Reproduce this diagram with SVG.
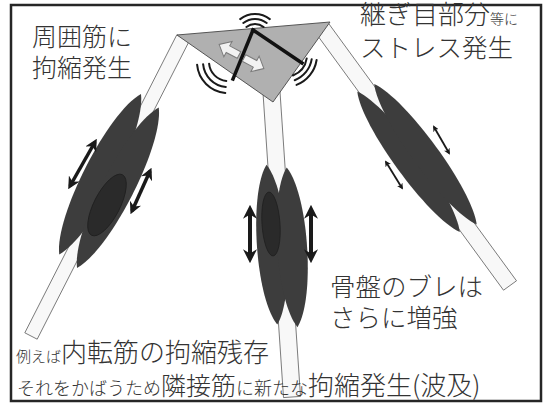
<svg xmlns="http://www.w3.org/2000/svg" width="544" height="404" viewBox="0 0 544 404">
  <defs>
    <style>
      .frame{fill:#fff;stroke:#262626;stroke-width:2.5}
      .bone{fill:#f8f8f8;stroke:#5a5a5a;stroke-width:0.8}
      .muscle{fill:#3d3d3d}
      .core{fill:#2a2a2a;stroke:#1e1e1e;stroke-width:0.8}
      .dbl{fill:none;stroke:#1a1a1a;marker-start:url(#head);marker-end:url(#head)}
      .wave{fill:none;stroke:#1a1a1a;stroke-width:2;stroke-linecap:round}
      .joint{stroke:#111;stroke-width:3.5;stroke-linecap:square}
      .shift{fill:#f2f2f2;stroke:#7a7a7a;stroke-width:0.8}
      .lbl{font-family:"Noto Sans CJK JP","Noto Sans CJK SC",sans-serif;fill:#333;font-weight:300}
    </style>
    <marker id="head" viewBox="0 0 10 10" refX="7" refY="5" markerWidth="3.5" markerHeight="3.5" orient="auto-start-reverse" markerUnits="strokeWidth">
      <path d="M0,0 L10,5 L0,10 L3,5 Z" fill="#1a1a1a"/>
    </marker>
    <!-- unit spindle lobe, scaled per muscle -->
    <path id="lobe" d="M0,-1 C1.333,-0.65 1.333,0.65 0,1 C-1.333,0.65 -1.333,-0.65 0,-1Z"/>
    <!-- block arrow pointing along +x -->
    <path id="block" d="M0,-3 L10,-3 L10,-7 L18,0 L10,7 L10,3 L0,3Z"/>
  </defs>

  <rect class="frame" x="11" y="5" width="530" height="396"/>

  <!-- bones -->
  <g id="bones">
    <polygon id="bone-left" class="bone" points="189.2,41.2 176.8,34.8 24.8,332.8 37.2,339.2"/>
    <polygon id="bone-middle" class="bone" points="262.5,85.6 279.5,84.4 300.5,396.4 283.5,397.6"/>
    <polygon id="bone-right" class="bone" points="328.5,23.3 315.5,32.7 503.5,290.2 516.5,280.8"/>
  </g>

  <!-- muscles -->
  <g id="muscle-left">
    <g transform="translate(109,181) rotate(27)">
      <use href="#lobe" class="muscle" transform="translate(-11,-2) scale(16,90)"/>
      <use href="#lobe" class="muscle" transform="translate(11,2) scale(16,90)"/>
    </g>
    <ellipse class="core" cx="107" cy="205" rx="13" ry="34" transform="rotate(27 107 205)"/>
  </g>
  <g id="muscle-middle">
    <g transform="translate(282,246) rotate(-3.85)">
      <use href="#lobe" class="muscle" transform="translate(-10,-2) scale(15,80)"/>
      <use href="#lobe" class="muscle" transform="translate(10,2) scale(15,80)"/>
    </g>
    <ellipse class="core" cx="271" cy="224" rx="9" ry="32" transform="rotate(-3.85 271 224)"/>
  </g>
  <g id="muscle-right">
    <g transform="translate(417,158) rotate(-36.1)">
      <use href="#lobe" class="muscle" transform="translate(-9,-2) scale(13,87)"/>
      <use href="#lobe" class="muscle" transform="translate(9,2) scale(13,87)"/>
    </g>
  </g>

  <!-- pelvis block -->
  <g id="pelvis">
    <polygon points="177,35 330,22 273,102" fill="#b0b0b0" stroke="#555" stroke-width="1"/>
    <line class="joint" x1="253" y1="30" x2="233" y2="79"/>
    <line class="joint" x1="253" y1="30" x2="302" y2="63"/>
    <use href="#block" class="shift" transform="translate(239,55) rotate(208) scale(1.25)"/>
    <use href="#block" class="shift" transform="translate(244,58) rotate(28) scale(1.25)"/>
  </g>

  <!-- connectors: contraction arrows and vibration marks -->
  <g id="connectors">
    <line class="dbl" stroke-width="3.5" x1="70" y1="186" x2="95" y2="142"/>
    <line class="dbl" stroke-width="3.5" x1="132" y1="211" x2="150" y2="171"/>
    <line class="dbl" stroke-width="4" x1="250" y1="209" x2="250" y2="259"/>
    <line class="dbl" stroke-width="4" x1="311" y1="209" x2="311" y2="259"/>
    <line class="dbl" stroke-width="1.8" x1="434" y1="127" x2="449" y2="153"/>
    <line class="dbl" stroke-width="1.8" x1="386" y1="162" x2="402" y2="188"/>

    <path class="wave" d="M240.2,19.1 A24,24 0 0 1 269.8,19.1"/>
    <path class="wave" d="M243.3,23 A19,19 0 0 1 266.7,23"/>
    <path class="wave" d="M246.4,27 A14,14 0 0 1 263.6,27"/>

    <path class="wave" d="M225.3,92.9 A31,31 0 0 1 197.1,64.7"/>
    <path class="wave" d="M225.8,86.9 A25,25 0 0 1 203.1,64.2"/>
    <path class="wave" d="M226.3,80.9 A19,19 0 0 1 209.1,63.7"/>

    <path class="wave" d="M316.6,60 A32,32 0 0 1 296.5,84.9"/>
    <path class="wave" d="M311.7,59.2 A27,27 0 0 1 294.7,80.2"/>
    <path class="wave" d="M306.7,58.4 A22,22 0 0 1 292.9,75.5"/>
  </g>

  <!-- labels -->
  <g id="label-surround">
    <text class="lbl" font-size="25" x="32" y="46">周囲筋に</text>
    <text class="lbl" font-size="25" x="32" y="77">拘縮発生</text>
  </g>
  <g id="label-joint">
    <text class="lbl" x="360" y="24"><tspan font-size="26">継ぎ目部分</tspan><tspan font-size="14">等に</tspan></text>
    <text class="lbl" font-size="25.5" x="360" y="57">ストレス発生</text>
  </g>
  <g id="label-pelvis">
    <text class="lbl" font-size="25.5" x="330" y="296">骨盤のブレは</text>
    <text class="lbl" font-size="25.5" x="330" y="327">さらに増強</text>
  </g>
  <g id="label-chain">
    <text class="lbl" x="16" y="362"><tspan font-size="15">例えば</tspan><tspan font-size="26">内転筋の拘縮残存</tspan></text>
    <text class="lbl" x="17" y="395"><tspan font-size="18">それをかばうため</tspan><tspan font-size="25">隣接筋</tspan><tspan font-size="18">に新たな</tspan><tspan font-size="26">拘縮発生(波及)</tspan></text>
  </g>
</svg>
